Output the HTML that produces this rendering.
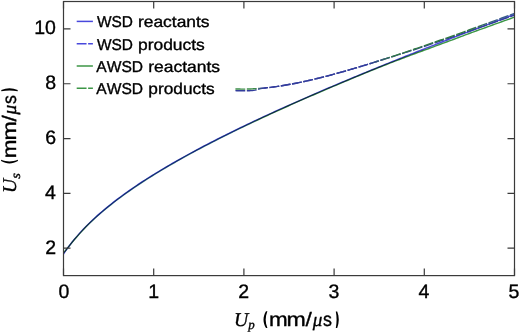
<!DOCTYPE html>
<html><head><meta charset="utf-8"><style>
html,body{margin:0;padding:0;background:#fff;width:520px;height:333px;overflow:hidden}
svg{display:block}
text{font-family:"Liberation Sans",sans-serif;fill:#000;stroke:#000;stroke-width:0.35px;font-kerning:none;text-rendering:geometricPrecision}
</style></head><body>
<svg width="520" height="333" viewBox="0 0 520 333">
<rect width="520" height="333" fill="#fff"/>
<defs><linearGradient id="gd" gradientUnits="userSpaceOnUse" x1="235.0" y1="0" x2="515.0" y2="0"><stop offset="0.0000" stop-color="#3c8c48"/><stop offset="0.0714" stop-color="#3c8c48"/><stop offset="0.1000" stop-color="#323c9c"/><stop offset="0.4750" stop-color="#323c9c"/><stop offset="0.5607" stop-color="#327a42"/><stop offset="0.8321" stop-color="#327a42"/><stop offset="0.9464" stop-color="#3a5e8c"/><stop offset="1.0000" stop-color="#3a5e8c"/></linearGradient><linearGradient id="gs" gradientUnits="userSpaceOnUse" x1="63.0" y1="0" x2="515.0" y2="0"><stop offset="0.0000" stop-color="#3c9646"/><stop offset="0.0465" stop-color="#3c9646"/><stop offset="0.0819" stop-color="#468c82"/><stop offset="0.3805" stop-color="#468c82"/><stop offset="0.4469" stop-color="#3c9646"/><stop offset="1.0000" stop-color="#3c9646"/></linearGradient></defs>
<defs><clipPath id="ax"><rect x="63.5" y="1.509999999999991" width="451.0" height="274.1"/></clipPath></defs>
<g clip-path="url(#ax)" fill="none" stroke-width="1.4" style="isolation:isolate">
<path d="M63.30,253.09 L65.57,250.43 L67.84,247.64 L70.11,244.82 L72.39,242.04 L74.66,239.32 L76.93,236.67 L79.20,234.11 L81.47,231.62 L83.74,229.21 L86.01,226.86 L88.28,224.58 L90.56,222.37 L92.83,220.21 L95.10,218.10 L97.37,216.04 L99.64,214.03 L101.91,212.06 L104.18,210.14 L106.46,208.25 L108.73,206.40 L111.00,204.58 L113.27,202.79 L115.54,201.04 L117.81,199.31 L120.08,197.61 L122.36,195.94 L124.63,194.29 L126.90,192.66 L129.17,191.06 L131.44,189.48 L133.71,187.92 L135.98,186.37 L138.25,184.85 L140.53,183.35 L142.80,181.86 L145.07,180.39 L147.34,178.93 L149.61,177.49 L151.88,176.07 L154.15,174.66 L156.43,173.26 L158.70,171.88 L160.97,170.50 L163.24,169.15 L165.51,167.80 L167.78,166.46 L170.05,165.14 L172.33,163.82 L174.60,162.52 L176.87,161.23 L179.14,159.94 L181.41,158.67 L183.68,157.40 L185.95,156.15 L188.22,154.90 L190.50,153.66 L192.77,152.43 L195.04,151.21 L197.31,149.99 L199.58,148.79 L201.85,147.59 L204.12,146.39 L206.40,145.21 L208.67,144.03 L210.94,142.85 L213.21,141.69 L215.48,140.53 L217.75,139.37 L220.02,138.22 L222.29,137.08 L224.57,135.95 L226.84,134.81 L229.11,133.69 L231.38,132.57 L233.65,131.45 L235.92,130.34 L238.19,129.24 L240.47,128.14 L242.74,127.04 L245.01,125.95 L247.28,124.86 L249.55,123.78 L251.82,122.71 L254.09,121.63 L256.37,120.56 L258.64,119.50 L260.91,118.44 L263.18,117.38 L265.45,116.33 L267.72,115.28 L269.99,114.23 L272.26,113.19 L274.54,112.15 L276.81,111.12 L279.08,110.09 L281.35,109.06 L283.62,108.03 L285.89,107.01 L288.16,105.99 L290.44,104.98 L292.71,103.97 L294.98,102.96 L297.25,101.95 L299.52,100.95 L301.79,99.95 L304.06,98.95 L306.34,97.96 L308.61,96.97 L310.88,95.98 L313.15,94.99 L315.42,94.01 L317.69,93.03 L319.96,92.05 L322.23,91.07 L324.51,90.10 L326.78,89.13 L329.05,88.16 L331.32,87.19 L333.59,86.23 L335.86,85.27 L338.13,84.31 L340.41,83.35 L342.68,82.39 L344.95,81.44 L347.22,80.49 L349.49,79.54 L351.76,78.59 L354.03,77.65 L356.31,76.71 L358.58,75.77 L360.85,74.83 L363.12,73.89 L365.39,72.96 L367.66,72.02 L369.93,71.09 L372.20,70.16 L374.48,69.24 L376.75,68.33 L379.02,67.42 L381.29,66.52 L383.56,65.62 L385.83,64.73 L388.10,63.84 L390.38,62.96 L392.65,62.08 L394.92,61.21 L397.19,60.34 L399.46,59.48 L401.73,58.62 L404.00,57.76 L406.27,56.90 L408.55,56.05 L410.82,55.20 L413.09,54.35 L415.36,53.51 L417.63,52.67 L419.90,51.82 L422.17,50.98 L424.45,50.14 L426.72,49.31 L428.99,48.47 L431.26,47.63 L433.53,46.79 L435.80,45.96 L438.07,45.12 L440.35,44.28 L442.62,43.44 L444.89,42.60 L447.16,41.76 L449.43,40.92 L451.70,40.08 L453.97,39.23 L456.24,38.38 L458.52,37.53 L460.79,36.68 L463.06,35.82 L465.33,34.96 L467.60,34.10 L469.87,33.24 L472.14,32.41 L474.42,31.58 L476.69,30.76 L478.96,29.93 L481.23,29.11 L483.50,28.29 L485.77,27.47 L488.04,26.65 L490.32,25.83 L492.59,25.01 L494.86,24.20 L497.13,23.38 L499.40,22.57 L501.67,21.75 L503.94,20.94 L506.21,20.13 L508.49,19.32 L510.76,18.51 L513.03,17.70 L515.30,16.87" stroke="url(#gs)" style="mix-blend-mode:multiply"/>
<path d="M63.30,254.29 L65.57,250.94 L67.84,247.75 L70.11,244.71 L72.39,241.80 L74.66,239.01 L76.93,236.33 L79.20,233.74 L81.47,231.24 L83.74,228.82 L86.01,226.47 L88.28,224.19 L90.56,221.97 L92.83,219.81 L95.10,217.70 L97.37,215.64 L99.64,213.63 L101.91,211.66 L104.18,209.74 L106.46,207.85 L108.73,206.00 L111.00,204.18 L113.27,202.39 L115.54,200.64 L117.81,198.91 L120.08,197.21 L122.36,195.54 L124.63,193.89 L126.90,192.26 L129.17,190.66 L131.44,189.08 L133.71,187.52 L135.98,185.97 L138.25,184.45 L140.53,182.95 L142.80,181.46 L145.07,179.99 L147.34,178.53 L149.61,177.09 L151.88,175.67 L154.15,174.26 L156.43,172.86 L158.70,171.48 L160.97,170.10 L163.24,168.75 L165.51,167.40 L167.78,166.06 L170.05,164.74 L172.33,163.42 L174.60,162.12 L176.87,160.83 L179.14,159.54 L181.41,158.27 L183.68,157.00 L185.95,155.75 L188.22,154.50 L190.50,153.26 L192.77,152.03 L195.04,150.81 L197.31,149.59 L199.58,148.39 L201.85,147.19 L204.12,145.99 L206.40,144.81 L208.67,143.63 L210.94,142.45 L213.21,141.29 L215.48,140.13 L217.75,138.97 L220.02,137.82 L222.29,136.68 L224.57,135.55 L226.84,134.41 L229.11,133.29 L231.38,132.17 L233.65,131.05 L235.92,129.94 L238.19,128.84 L240.47,127.74 L242.74,126.64 L245.01,125.55 L247.28,124.46 L249.55,123.38 L251.82,122.31 L254.09,121.23 L256.37,120.16 L258.64,119.10 L260.91,118.04 L263.18,116.98 L265.45,115.93 L267.72,114.88 L269.99,113.83 L272.26,112.79 L274.54,111.75 L276.81,110.72 L279.08,109.69 L281.35,108.66 L283.62,107.63 L285.89,106.61 L288.16,105.59 L290.44,104.58 L292.71,103.57 L294.98,102.56 L297.25,101.55 L299.52,100.55 L301.79,99.55 L304.06,98.55 L306.34,97.56 L308.61,96.57 L310.88,95.58 L313.15,94.59 L315.42,93.61 L317.69,92.63 L319.96,91.65 L322.23,90.67 L324.51,89.70 L326.78,88.73 L329.05,87.76 L331.32,86.79 L333.59,85.83 L335.86,84.87 L338.13,83.91 L340.41,82.95 L342.68,81.99 L344.95,81.04 L347.22,80.09 L349.49,79.14 L351.76,78.19 L354.03,77.25 L356.31,76.31 L358.58,75.37 L360.85,74.43 L363.12,73.49 L365.39,72.56 L367.66,71.62 L369.93,70.69 L372.20,69.76 L374.48,68.83 L376.75,67.91 L379.02,66.98 L381.29,66.06 L383.56,65.14 L385.83,64.22 L388.10,63.31 L390.38,62.39 L392.65,61.48 L394.92,60.56 L397.19,59.65 L399.46,58.74 L401.73,57.83 L404.00,56.93 L406.27,56.02 L408.55,55.12 L410.82,54.22 L413.09,53.32 L415.36,52.42 L417.63,51.52 L419.90,50.63 L422.17,49.73 L424.45,48.84 L426.72,47.95 L428.99,47.06 L431.26,46.17 L433.53,45.28 L435.80,44.39 L438.07,43.51 L440.35,42.62 L442.62,41.74 L444.89,40.86 L447.16,39.98 L449.43,39.10 L451.70,38.22 L453.97,37.34 L456.24,36.47 L458.52,35.59 L460.79,34.72 L463.06,33.85 L465.33,32.97 L467.60,32.10 L469.87,31.24 L472.14,30.37 L474.42,29.50 L476.69,28.63 L478.96,27.77 L481.23,26.91 L483.50,26.04 L485.77,25.18 L488.04,24.32 L490.32,23.46 L492.59,22.60 L494.86,21.75 L497.13,20.89 L499.40,20.03 L501.67,19.18 L503.94,18.32 L506.21,17.47 L508.49,16.62 L510.76,15.77 L513.03,14.92 L515.30,14.07" stroke="#4848dc" style="mix-blend-mode:multiply"/>
<path d="M235.40,90.65 L236.81,90.70 L238.21,90.74 L239.62,90.77 L241.03,90.79 L242.43,90.80 L243.84,90.80 L245.25,90.79 L246.65,90.77 L248.06,90.73 L249.47,90.69 L250.87,90.62 L252.28,90.53 L253.68,90.38 L255.09,90.14 L256.50,89.77 L257.90,89.31 L259.31,88.87 L260.72,88.55 L262.12,88.32 L263.53,88.14 L264.94,87.98 L266.34,87.82 L267.75,87.67 L269.16,87.51 L270.56,87.34 L271.97,87.17 L273.38,86.98 L274.78,86.80 L276.19,86.60 L277.60,86.40 L279.00,86.19 L280.41,85.98 L281.82,85.76 L283.22,85.53 L284.63,85.30 L286.04,85.06 L287.44,84.81 L288.85,84.56 L290.25,84.31 L291.66,84.05 L293.07,83.78 L294.47,83.51 L295.88,83.23 L297.29,82.95 L298.69,82.67 L300.10,82.37 L301.51,82.08 L302.91,81.78 L304.32,81.47 L305.73,81.16 L307.13,80.85 L308.54,80.53 L309.95,80.21 L311.35,79.89 L312.76,79.56 L314.17,79.22 L315.57,78.89 L316.98,78.55 L318.39,78.20 L319.79,77.85 L321.20,77.50 L322.61,77.15 L324.01,76.79 L325.42,76.43 L326.82,76.06 L328.23,75.70 L329.64,75.32 L331.04,74.95 L332.45,74.57 L333.86,74.19 L335.26,73.81 L336.67,73.43 L338.08,73.04 L339.48,72.65 L340.89,72.26 L342.30,71.86 L343.70,71.46 L345.11,71.06 L346.52,70.66 L347.92,70.26 L349.33,69.85 L350.74,69.44 L352.14,69.03 L353.55,68.61 L354.96,68.20 L356.36,67.78 L357.77,67.36 L359.17,66.94 L360.58,66.51 L361.99,66.09 L363.39,65.66 L364.80,65.23 L366.21,64.80 L367.61,64.37 L369.02,63.93 L370.43,63.49 L371.83,63.06 L373.24,62.62 L374.65,62.17 L376.05,61.73 L377.46,61.29 L378.87,60.84 L380.27,60.40 L381.68,59.96 L383.09,59.53 L384.49,59.10 L385.90,58.67 L387.31,58.23 L388.71,57.79 L390.12,57.35 L391.53,56.91 L392.93,56.47 L394.34,56.03 L395.74,55.59 L397.15,55.14 L398.56,54.69 L399.96,54.25 L401.37,53.80 L402.78,53.35 L404.18,52.90 L405.59,52.45 L407.00,51.99 L408.40,51.54 L409.81,51.09 L411.22,50.63 L412.62,50.17 L414.03,49.71 L415.44,49.26 L416.84,48.80 L418.25,48.34 L419.66,47.87 L421.06,47.41 L422.47,46.95 L423.88,46.48 L425.28,46.02 L426.69,45.55 L428.09,45.08 L429.50,44.62 L430.91,44.15 L432.31,43.68 L433.72,43.21 L435.13,42.74 L436.53,42.27 L437.94,41.79 L439.35,41.32 L440.75,40.85 L442.16,40.37 L443.57,39.90 L444.97,39.42 L446.38,38.94 L447.79,38.47 L449.19,37.99 L450.60,37.51 L452.01,37.03 L453.41,36.55 L454.82,36.07 L456.23,35.59 L457.63,35.11 L459.04,34.62 L460.45,34.14 L461.85,33.66 L463.26,33.17 L464.66,32.69 L466.07,32.20 L467.48,31.72 L468.88,31.23 L470.29,30.74 L471.70,30.25 L473.10,29.77 L474.51,29.28 L475.92,28.79 L477.32,28.30 L478.73,27.81 L480.14,27.32 L481.54,26.83 L482.95,26.34 L484.36,25.84 L485.76,25.35 L487.17,24.86 L488.58,24.36 L489.98,23.87 L491.39,23.38 L492.80,22.88 L494.20,22.39 L495.61,21.89 L497.02,21.40 L498.42,20.90 L499.83,20.40 L501.23,19.90 L502.64,19.41 L504.05,18.91 L505.45,18.41 L506.86,17.91 L508.27,17.41 L509.67,16.91 L511.08,16.41 L512.49,15.91 L513.89,15.41 L515.30,14.89" stroke="#323c9c" stroke-dasharray="9.85 1.58"/>
<path d="M235.40,88.95 L236.81,89.00 L238.21,89.04 L239.62,89.07 L241.03,89.09 L242.43,89.10 L243.84,89.10 L245.25,89.09 L246.65,89.07 L248.06,89.04 L249.47,89.00 L250.87,88.95 L252.28,88.89 L253.68,88.82 L255.09,88.74 L256.50,88.66 L257.90,88.56 L259.31,88.46 L260.72,88.35 L262.12,88.23 L263.53,88.10 L264.94,87.96 L266.34,87.82 L267.75,87.67 L269.16,87.51 L270.56,87.34 L271.97,87.17 L273.38,86.98 L274.78,86.80 L276.19,86.60 L277.60,86.40 L279.00,86.19 L280.41,85.98 L281.82,85.76 L283.22,85.53 L284.63,85.30 L286.04,85.06 L287.44,84.81 L288.85,84.56 L290.25,84.31 L291.66,84.05 L293.07,83.78 L294.47,83.51 L295.88,83.23 L297.29,82.95 L298.69,82.67 L300.10,82.37 L301.51,82.08 L302.91,81.78 L304.32,81.47 L305.73,81.16 L307.13,80.85 L308.54,80.53 L309.95,80.21 L311.35,79.89 L312.76,79.56 L314.17,79.22 L315.57,78.89 L316.98,78.55 L318.39,78.20 L319.79,77.85 L321.20,77.50 L322.61,77.15 L324.01,76.79 L325.42,76.43 L326.82,76.06 L328.23,75.70 L329.64,75.32 L331.04,74.95 L332.45,74.57 L333.86,74.19 L335.26,73.81 L336.67,73.43 L338.08,73.04 L339.48,72.65 L340.89,72.26 L342.30,71.86 L343.70,71.46 L345.11,71.06 L346.52,70.66 L347.92,70.26 L349.33,69.85 L350.74,69.44 L352.14,69.03 L353.55,68.61 L354.96,68.20 L356.36,67.78 L357.77,67.36 L359.17,66.94 L360.58,66.51 L361.99,66.09 L363.39,65.66 L364.80,65.23 L366.21,64.80 L367.61,64.37 L369.02,63.93 L370.43,63.49 L371.83,63.06 L373.24,62.62 L374.65,62.17 L376.05,61.73 L377.46,61.29 L378.87,60.84 L380.27,60.39 L381.68,59.94 L383.09,59.49 L384.49,59.04 L385.90,58.59 L387.31,58.13 L388.71,57.67 L390.12,57.22 L391.53,56.76 L392.93,56.30 L394.34,55.84 L395.74,55.37 L397.15,54.91 L398.56,54.45 L399.96,53.98 L401.37,53.51 L402.78,53.04 L404.18,52.57 L405.59,52.10 L407.00,51.63 L408.40,51.16 L409.81,50.69 L411.22,50.21 L412.62,49.73 L414.03,49.26 L415.44,48.78 L416.84,48.30 L418.25,47.82 L419.66,47.34 L421.06,46.86 L422.47,46.38 L423.88,45.89 L425.28,45.41 L426.69,44.92 L428.09,44.44 L429.50,43.95 L430.91,43.46 L432.31,42.98 L433.72,42.49 L435.13,42.00 L436.53,41.51 L437.94,41.01 L439.35,40.52 L440.75,40.03 L442.16,39.54 L443.57,39.04 L444.97,38.55 L446.38,38.05 L447.79,37.56 L449.19,37.06 L450.60,36.56 L452.01,36.06 L453.41,35.56 L454.82,35.06 L456.23,34.56 L457.63,34.06 L459.04,33.56 L460.45,33.06 L461.85,32.56 L463.26,32.05 L464.66,31.55 L466.07,31.05 L467.48,30.54 L468.88,30.03 L470.29,29.53 L471.70,29.02 L473.10,28.52 L474.51,28.01 L475.92,27.50 L477.32,26.99 L478.73,26.48 L480.14,25.97 L481.54,25.46 L482.95,24.95 L484.36,24.44 L485.76,23.93 L487.17,23.42 L488.58,22.91 L489.98,22.39 L491.39,21.88 L492.80,21.37 L494.20,20.85 L495.61,20.34 L497.02,19.82 L498.42,19.31 L499.83,18.79 L501.23,18.28 L502.64,17.76 L504.05,17.24 L505.45,16.73 L506.86,16.21 L508.27,15.69 L509.67,15.17 L511.08,14.65 L512.49,14.13 L513.89,13.61 L515.30,13.09" stroke="url(#gd)" stroke-dasharray="9.85 1.58"/>
</g>
<rect x="63.5" y="1.51" width="451.00" height="274.10" fill="none" stroke="#3a3a3a" stroke-width="1.2"/>
<path d="M63.50,275.61v-7M63.50,1.51v7M153.70,275.61v-7M153.70,1.51v7M243.90,275.61v-7M243.90,1.51v7M334.10,275.61v-7M334.10,1.51v7M424.30,275.61v-7M424.30,1.51v7M514.50,275.61v-7M514.50,1.51v7M63.50,248.20h7M514.50,248.20h-7M63.50,193.38h7M514.50,193.38h-7M63.50,138.56h7M514.50,138.56h-7M63.50,83.74h7M514.50,83.74h-7M63.50,28.92h7M514.50,28.92h-7" stroke="#3a3a3a" stroke-width="1.2" fill="none"/>
<text transform="translate(58.58,297.70)" font-size="19.5">0</text>
<text transform="translate(148.21,297.70)" font-size="19.5">1</text>
<text transform="translate(238.28,297.70)" font-size="19.5">2</text>
<text transform="translate(328.53,297.70)" font-size="19.5">3</text>
<text transform="translate(418.54,297.70)" font-size="19.5">4</text>
<text transform="translate(508.40,297.70)" font-size="19.5">5</text>
<text transform="translate(45.34,253.55)" font-size="19.5">2</text>
<text transform="translate(44.93,198.73)" font-size="19.5">4</text>
<text transform="translate(45.21,143.91)" font-size="19.5">6</text>
<text transform="translate(45.20,89.09)" font-size="19.5">8</text>
<text transform="translate(34.27,34.27)" font-size="19.5">10</text>
<path d="M76.7,21.4H92.9" stroke="#4848dc" stroke-width="1.5"/>
<text transform="translate(96.93,27.10) scale(0.9830,1)" font-size="15.7">WSD</text>
<text transform="translate(137.94,27.10) scale(1.1101,1)" font-size="15.7">reactants</text>
<path d="M76.7,43.8H92.9" stroke="#4848dc" stroke-width="1.5" stroke-dasharray="9.85 1.58"/>
<text transform="translate(96.93,49.50) scale(0.9830,1)" font-size="15.7">WSD</text>
<text transform="translate(137.98,49.50) scale(1.1102,1)" font-size="15.7">products</text>
<path d="M76.7,66.0H92.9" stroke="#3c9646" stroke-width="1.5"/>
<text transform="translate(96.37,71.70) scale(0.9931,1)" font-size="15.7">AWSD</text>
<text transform="translate(148.24,71.70) scale(1.1133,1)" font-size="15.7">reactants</text>
<path d="M76.7,88.3H92.9" stroke="#3c9646" stroke-width="1.5" stroke-dasharray="9.85 1.58"/>
<text transform="translate(96.37,94.00) scale(0.9931,1)" font-size="15.7">AWSD</text>
<text transform="translate(148.29,94.00) scale(1.1017,1)" font-size="15.7">products</text>
<g transform="translate(235.9,326.0)"><text transform="translate(-1.81,0.00) scale(1.0113,1)" font-size="19.5" style="font-family:'Liberation Serif',serif" font-style="italic">U</text><text transform="translate(12.45,3.00) scale(0.9605,1)" font-size="13.4" style="font-family:'Liberation Serif',serif" font-style="italic">p</text><path d="M30.10,-14.70C26.77,-9.10 26.77,-3.50 30.10,2.10L31.50,2.10C29.23,-3.50 29.23,-9.10 31.50,-14.70Z" fill="#000"/><text transform="translate(33.01,0.00) scale(1.1491,1)" font-size="19.5">m</text><text transform="translate(50.66,0.00) scale(1.1857,1)" font-size="19.5">m</text><text transform="translate(69.70,0.00) scale(1.1628,1)" font-size="19.5">/</text><text transform="translate(76.82,0.00) scale(0.9826,1)" font-size="19.5" style="font-family:'Liberation Serif',serif" font-style="italic">μ</text><text transform="translate(87.10,0.00) scale(0.9174,1)" font-size="19.5">s</text><path d="M101.30,-14.50C103.43,-9.03 103.43,-3.57 101.30,1.90L99.90,1.90C100.97,-3.57 100.97,-9.03 99.90,-14.50Z" fill="#000"/></g>
<g transform="translate(15.8,191.2) rotate(-90)"><text transform="translate(-1.81,0.00) scale(1.0113,1)" font-size="19.5" style="font-family:'Liberation Serif',serif" font-style="italic">U</text><text transform="translate(12.42,3.90) scale(1.0763,1)" font-size="13.4" style="font-family:'Liberation Serif',serif" font-style="italic">s</text><path d="M30.10,-14.70C26.77,-9.10 26.77,-3.50 30.10,2.10L31.50,2.10C29.23,-3.50 29.23,-9.10 31.50,-14.70Z" fill="#000"/><text transform="translate(33.01,0.00) scale(1.1491,1)" font-size="19.5">m</text><text transform="translate(50.66,0.00) scale(1.1857,1)" font-size="19.5">m</text><text transform="translate(69.70,0.00) scale(1.1628,1)" font-size="19.5">/</text><text transform="translate(76.82,0.00) scale(0.9826,1)" font-size="19.5" style="font-family:'Liberation Serif',serif" font-style="italic">μ</text><text transform="translate(87.10,0.00) scale(0.9174,1)" font-size="19.5">s</text><path d="M101.30,-14.50C103.43,-9.03 103.43,-3.57 101.30,1.90L99.90,1.90C100.97,-3.57 100.97,-9.03 99.90,-14.50Z" fill="#000"/></g>
</svg>
</body></html>
